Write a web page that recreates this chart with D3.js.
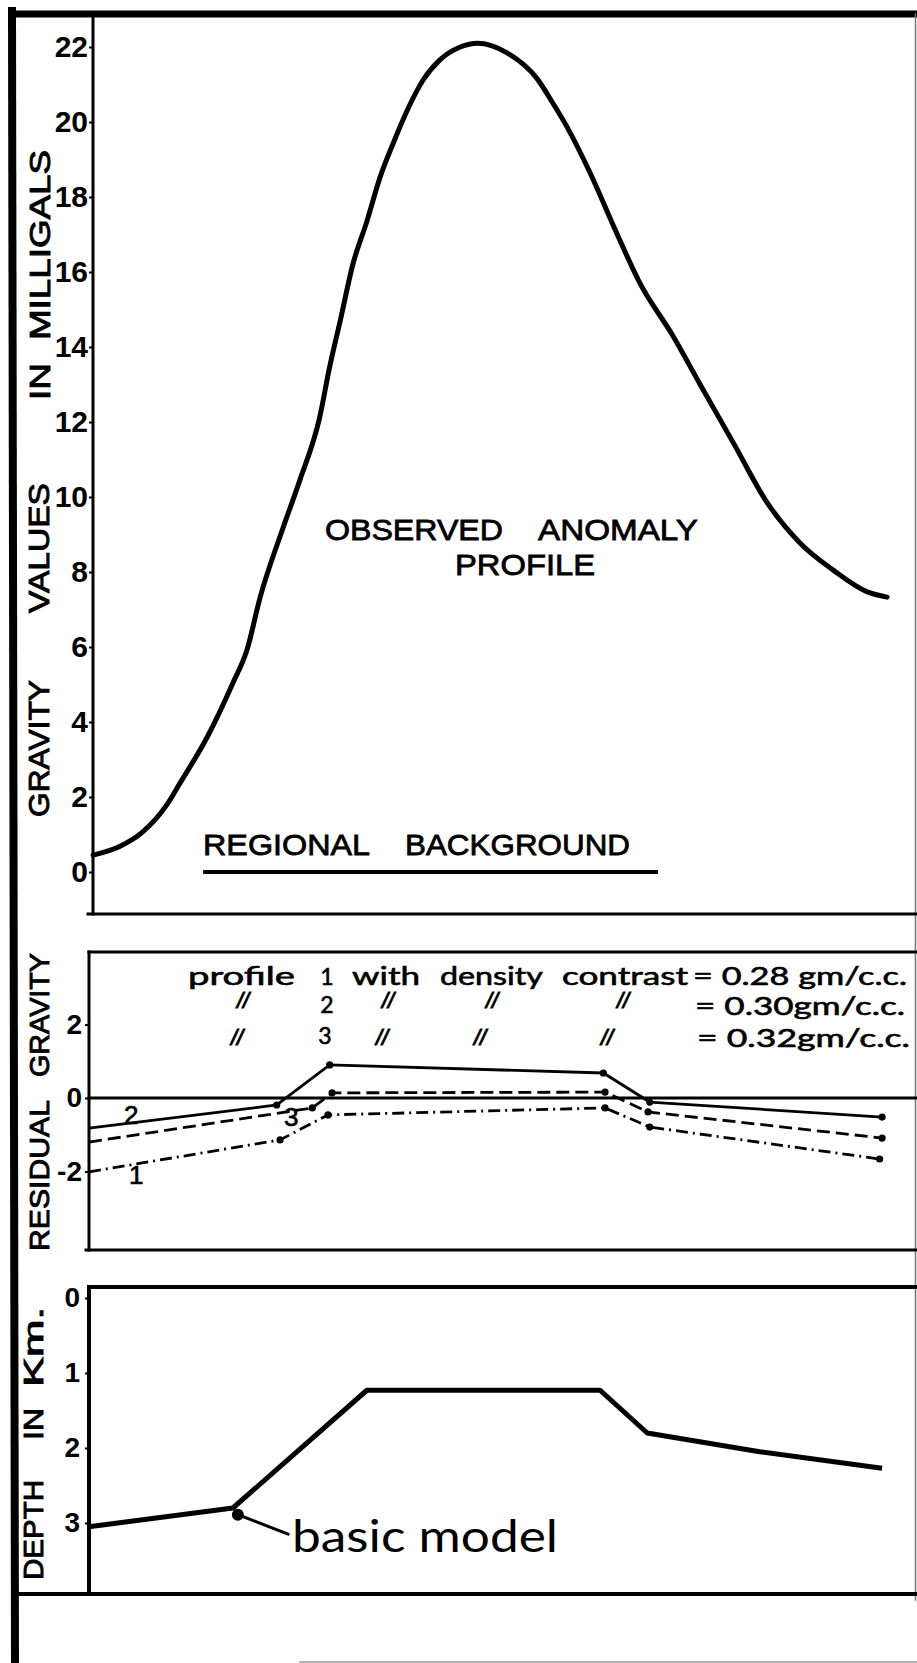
<!DOCTYPE html>
<html><head><meta charset="utf-8">
<script src="https://cdn.jsdelivr.net/npm/d3@7"></script>
<style>body{margin:0;background:#fff}svg{display:block}</style>
</head><body>
<script>
// ---------- data ----------
// observed anomaly profile (distance units 0-100 along profile, value in mGal)
const obsX=[0.5,3.7,6.5,9.4,11.0,14.3,17.4,19.1,20.7,23.5,25.5,27.9,29.1,30.4,31.9,33.6,35.2,36.8,38.5,40.4,42.4,44.9,47.0,50.5,54.2,56.1,57.8,60.6,63.8,66.6,70.6,73.9,77.9,82.0,86.0,90.0,94.1,96.5];
const obsY=[0.45,0.68,1.07,1.79,2.37,3.6,5.04,5.92,7.33,9.2,10.45,12.13,13.47,14.72,16.2,17.35,18.53,19.44,20.32,21.12,21.65,22.0,22.1,21.85,21.15,20.5,19.87,18.64,17.04,15.71,14.3,13.0,11.45,9.85,8.77,8.05,7.47,7.33];
const regX=[13.8,68.8];
const regY=[0,0];
// residual gravity profiles
const prof2X=[0,22.7,29.1,62.2,67.8,95.9];
const prof2Y=[-0.82,-0.19,0.9,0.68,-0.11,-0.52];
const prof3X=[0,27.0,29.4,62.4,67.6,95.9];
const prof3Y=[-1.2,-0.27,0.14,0.16,-0.38,-1.09];
const prof1X=[0,23.1,28.9,62.4,67.8,95.6];
const prof1Y=[-2.01,-1.14,-0.46,-0.27,-0.79,-1.66];
// basic model depth (km)
const depthX=[0,17.4,33.6,61.8,67.5,81.1,95.9];
const depthY=[3.05,2.8,1.23,1.23,1.8,2.05,2.27];
const modelMarker=[18.0,2.89];
// ticks
const topTicks=[0,2,4,6,8,10,12,14,16,18,20,22];
const resTicks=[-2,0,2];
const depthTicks=[0,1,2,3];
const densityLabels=["= 0.28 gm/c.c.","= 0.30gm/c.c.","= 0.32gm/c.c."];

// ---------- layout ----------
const W=917,H=1663;
const svg=d3.select("body").append("svg").attr("width",W).attr("height",H);
const x=d3.scaleLinear().domain([0,100]).range([89,916]);
const yTop=d3.scaleLinear().domain([0,22]).range([872,47]);
const yRes=d3.scaleLinear().domain([-2,2]).range([1171.5,1024.5]);
const yDep=d3.scaleLinear().domain([0,3]).range([1298,1523]);

const CAP="'Liberation Sans', Arial, sans-serif";
const LOW="Lato, 'Open Sans', sans-serif";

function ln(x1,y1,x2,y2,w,c){svg.append("line").attr("x1",x1).attr("y1",y1).attr("x2",x2).attr("y2",y2)
  .attr("stroke",c||"#000").attr("stroke-width",w).attr("stroke-linecap","square");}

// outer frame
ln(12,14,916,14,7);
ln(12,11,15,1663,8);
ln(915.5,14,915.5,1600,1.5,"#777");
ln(300,1662,917,1662,1.5,"#999");

// top panel frame
ln(93,14,93,914,3);
ln(88,914,916,914,3);
// middle panel frame
ln(89,952,916,952,3);
ln(89,952,89,1250,3);
ln(86,1250,916,1250,3);
ln(89,yRes(0),916,yRes(0),3);
// depth panel frame
ln(89,1287,916,1287,4);
ln(89,1287,89,1594,4);
ln(14,1594,916,1594,4);

// axes (tick labels)
function axis(scale,ticks,xpos,pad,fs){
  const g=svg.append("g").attr("transform",`translate(${xpos},0)`)
    .call(d3.axisLeft(scale).tickValues(ticks).tickSize(4).tickPadding(pad).tickFormat(d=>String(d).replace("\u2212","-")));
  g.select(".domain").remove();
  g.selectAll(".tick line").attr("stroke","#000").attr("stroke-width",2);
  g.selectAll("text").attr("font-family",CAP).attr("font-weight","bold").attr("font-size",fs).attr("fill","#000");
}
axis(yTop,topTicks,93,1,30);
axis(yRes,resTicks,89,3,28);
axis(yDep,depthTicks,89,5,28);

// rotated axis titles
function vtext(t,xb,y0,y1,fs){
  svg.append("text").text(t).attr("transform",`translate(${xb},${y0}) rotate(-90)`)
    .attr("font-family",CAP).attr("font-size",fs).attr("stroke","#000").attr("stroke-width",0.9)
    .attr("textLength",y0-y1).attr("lengthAdjust","spacingAndGlyphs");
}
vtext("GRAVITY",49,817,680,29);
vtext("VALUES",49,613,483,29);
vtext("IN",50,400,363,29);
vtext("MILLIGALS",50,340,150,29);
vtext("RESIDUAL",49,1251,1100,28);
vtext("GRAVITY",49,1077,953,28);
vtext("DEPTH",43,1580,1480,27);
vtext("IN",43,1440,1408,27);
vtext("Km.",43,1387,1307,27);

function htext(t,x0,x1,yb,fs,fam,sw,anchor){
  const s=svg.append("text").text(t).attr("x",x0).attr("y",yb)
    .attr("font-family",fam).attr("font-size",fs).attr("fill","#000");
  if(sw) s.attr("stroke","#000").attr("stroke-width",sw);
  if(x1!=null) s.attr("textLength",x1-x0).attr("lengthAdjust","spacingAndGlyphs");
  if(anchor) s.attr("text-anchor",anchor);
  return s;
}

// ---------- top panel ----------
svg.append("path").datum(obsX.map((d,i)=>[d,obsY[i]]))
  .attr("d",d3.line().x(d=>x(d[0])).y(d=>yTop(d[1])).curve(d3.curveMonotoneX))
  .attr("fill","none").attr("stroke","#000").attr("stroke-width",5).attr("stroke-linecap","round");
svg.append("path").datum(regX.map((d,i)=>[d,regY[i]]))
  .attr("d",d3.line().x(d=>x(d[0])).y(d=>yTop(d[1])))
  .attr("fill","none").attr("stroke","#000").attr("stroke-width",4);
htext("OBSERVED",325,503,540,30,CAP,0.8);
htext("ANOMALY",538,698,540,30,CAP,0.8);
htext("PROFILE",455,595,575,30,CAP,0.8);
htext("REGIONAL",203,370,855,30,CAP,0.8);
htext("BACKGROUND",405,630,855,30,CAP,0.8);

// ---------- middle panel ----------
const series=[
  {X:prof2X,Y:prof2Y,dash:null},
  {X:prof3X,Y:prof3Y,dash:"13,6"},
  {X:prof1X,Y:prof1Y,dash:"12,5,2,5"}
];
series.forEach(s=>{
  const pts=s.X.map((d,i)=>[d,s.Y[i]]);
  svg.append("path").datum(pts)
    .attr("d",d3.line().x(d=>x(d[0])).y(d=>yRes(d[1])))
    .attr("fill","none").attr("stroke","#000").attr("stroke-width",2.8)
    .attr("stroke-dasharray",s.dash);
  svg.selectAll(null).data(pts.slice(1)).enter().append("circle")
    .attr("cx",d=>x(d[0])).attr("cy",d=>yRes(d[1])).attr("r",3.6).attr("fill","#000");
});
htext("2",124,null,1124,26,CAP,0.7);
htext("3",284,null,1126,26,CAP,0.7);
htext("1",129,null,1184,26,CAP,0.7);

// legend
htext("profile",188,295,985,25,LOW,0.6);
htext("1",327,null,985,23,LOW,0.6,"middle");
htext("with",352,420,985,25,LOW,0.6);
htext("density",440,543,985,25,LOW,0.6);
htext("contrast",562,688,985,25,LOW,0.6);
htext(densityLabels[0],693,907,985,25,LOW,0.6);
htext("2",327,null,1013,23,LOW,0.6,"middle");
htext(densityLabels[1],695,905,1015,25,LOW,0.6);
htext("3",325,null,1044,23,LOW,0.6,"middle");
htext(densityLabels[2],697,910,1047,25,LOW,0.6);
const ditto2=[243,388,492,623], ditto3=[237,382,480,607];
ditto2.forEach(cx=>htext("//",cx,null,1008,22,CAP,0.9,"middle").attr("font-style","italic"));
ditto3.forEach(cx=>htext("//",cx,null,1045,22,CAP,0.9,"middle").attr("font-style","italic"));

// ---------- depth panel ----------
svg.append("path").datum(depthX.map((d,i)=>[d,depthY[i]]))
  .attr("d",d3.line().x(d=>x(d[0])).y(d=>yDep(d[1])))
  .attr("fill","none").attr("stroke","#000").attr("stroke-width",5).attr("stroke-linejoin","round");
const mx=x(modelMarker[0]), my=yDep(modelMarker[1]);
svg.append("circle").attr("cx",mx).attr("cy",my).attr("r",6).attr("fill","#000");
ln(mx,my,288,1534,3);
htext("basic model",292,558,1552,44,LOW,0);
</script>
</body></html>
